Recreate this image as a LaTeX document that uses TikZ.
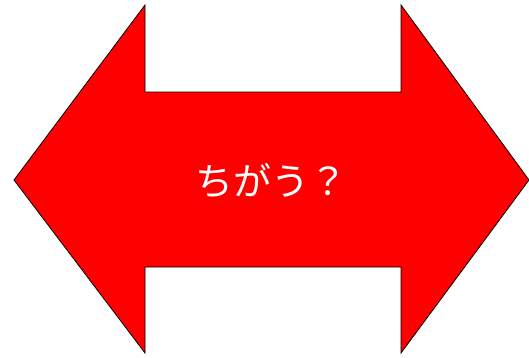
\documentclass[tikz,border=0pt]{standalone}
\usepackage{fontspec}
\newfontfamily\cjk{Noto Sans CJK JP}
\usetikzlibrary{positioning}

\begin{document}
\begin{tikzpicture}[x=1pt, y=1pt, arrowshape/.style={draw=black, fill=red, line width=0.8pt, line join=miter}, label/.style={text=white, font=\cjk\fontsize{38}{44}\selectfont}]
    \useasboundingbox (0,0) rectangle (529,357);
    % double arrow
    \draw[arrowshape] (14,177) -- (145,352) -- (145,265) -- (401,265) -- (401,352)
        -- (529,177) -- (401,4) -- (401,90) -- (145,90) -- (145,4) -- cycle;
    \node[label] (txt) at (271,176) {ちがう？};
\end{tikzpicture}
\end{document}
